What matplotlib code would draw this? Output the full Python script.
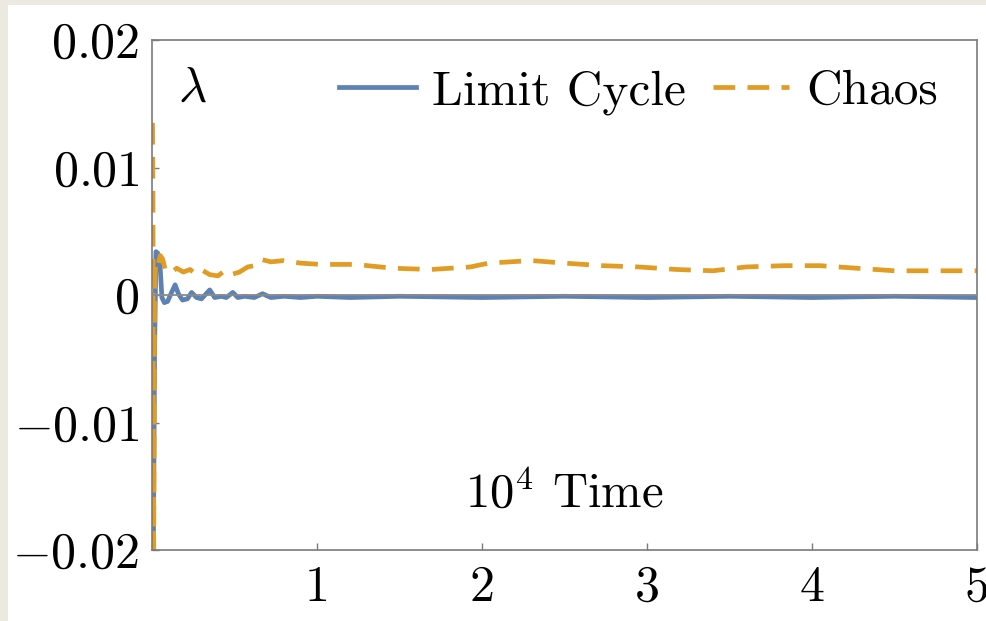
import numpy as np
import matplotlib
matplotlib.use("Agg")
import matplotlib.pyplot as plt
from matplotlib.patches import Rectangle

plt.rcParams['font.family'] = ['cmr10', 'DejaVu Serif']
plt.rcParams['mathtext.fontset'] = 'cm'
plt.rcParams['axes.unicode_minus'] = False

# ---- datos (tiempo en unidades de 10^4) ----
t_ciclo = [0.008, 0.016, 0.024, 0.034, 0.048, 0.060, 0.075, 0.095, 0.115, 0.140,
           0.160, 0.185, 0.215, 0.240, 0.270, 0.300, 0.350, 0.380, 0.420, 0.450,
           0.490, 0.520, 0.560, 0.620, 0.670, 0.720, 0.800, 0.900, 1.000, 1.200,
           1.500, 2.000, 2.500, 3.000, 3.500, 4.000, 4.500, 5.000]
lam_ciclo = [-0.0210, -0.0040, 0.0034, 0.0033, 0.0025, -0.0002, -0.0006, -0.0005, 0.0001, 0.0008,
             0.0001, -0.0004, -0.0003, 0.0002, -0.0002, -0.0003, 0.0004, -0.0002, -0.0001, -0.0002,
             0.0002, -0.0002, -0.0001, -0.0002, 0.0001, -0.0002, -0.0001, -0.0002, -0.0001, -0.0002,
             -0.0001, -0.0002, -0.0001, -0.0002, -0.0001, -0.0002, -0.0001, -0.0002]

t_caos = [0.003, 0.006, 0.010, 0.016, 0.022, 0.035, 0.050, 0.065, 0.080, 0.110,
          0.150, 0.190, 0.230, 0.270, 0.310, 0.350, 0.400, 0.440, 0.480, 0.530,
          0.580, 0.620, 0.660, 0.720, 0.800, 0.900, 1.020, 1.230, 1.460, 1.690,
          1.930, 2.040, 2.300, 2.500, 2.730, 2.950, 3.180, 3.400, 3.600, 3.830,
          4.050, 4.270, 4.500, 4.800, 5.000]
lam_caos = [0.0135, 0.0080, -0.0210, 0.0008, 0.0025, 0.0022, 0.0031, 0.0028, 0.0020, 0.0017,
            0.0021, 0.0018, 0.0020, 0.0016, 0.0019, 0.0016, 0.0015, 0.0019, 0.0016, 0.0018,
            0.0022, 0.0023, 0.0028, 0.0026, 0.0027, 0.0025, 0.0024, 0.0024, 0.0021, 0.0020,
            0.0022, 0.0025, 0.0027, 0.0025, 0.0023, 0.0022, 0.0020, 0.0019, 0.0022, 0.0023,
            0.0023, 0.0021, 0.0019, 0.0019, 0.0019]

yticks = [-0.02, -0.01, 0, 0.01, 0.02]
ytick_labels = [r'$-0.02$', r'$-0.01$', r'$0$', r'$0.01$', r'$0.02$']
xticks = [1, 2, 3, 4, 5]
xtick_labels = ['1', '2', '3', '4', '5']

azul = '#5E81B5'
naranja = '#E19C24'

fig = plt.figure(figsize=(9.86, 6.21), dpi=100, facecolor='#ECE9E0')
# fondo blanco con el borde beige arriba e izquierda
fondo = Rectangle((8/986, 0), 1, 1 - 5/621, transform=fig.transFigure,
                  facecolor='white', edgecolor='none', zorder=-10)
fig.add_artist(fondo)
ax = fig.add_axes([152/986, 71/621, (977-152)/986, (550-40)/621])
ax.set_zorder(1)
ax.set_facecolor('white')

ax.axhline(0, color='#8a8a8a', lw=1.3, zorder=3)
ax.plot(t_ciclo, lam_ciclo, color=azul, lw=3.4, zorder=2, label='Limit Cycle')
ax.plot(t_caos, lam_caos, color=naranja, lw=3.4, zorder=2.5,
        linestyle=(0, (4.6, 2.6)), label='Chaos')

ax.set_xlim(0, 5.0)
ax.set_ylim(-0.02, 0.02)

for s in ax.spines.values():
    s.set_color('#7a7a7a')
    s.set_linewidth(1.2)

ax.set_yticks(yticks)
ax.set_yticklabels(ytick_labels)
ax.set_xticks(xticks)
ax.set_xticklabels(xtick_labels)
ax.tick_params(direction='in', length=5, width=1, color='#7a7a7a', labelsize=36,
               top=False, right=False)
ax.tick_params(axis='y', pad=9)
ax.tick_params(axis='x', pad=11)

ax.text(0.049, 0.905, r'$\lambda$', transform=ax.transAxes, fontsize=35,
        ha='center', va='center')
ax.text(0.5, 0.108, r'$10^4$ Time', transform=ax.transAxes, fontsize=35,
        ha='center', va='center')

leg = ax.legend(loc='upper right', bbox_to_anchor=(0.988, 1.0), ncol=2, frameon=False,
                fontsize=35.5, handlelength=1.55, handletextpad=0.33, columnspacing=0.55,
                borderaxespad=0.2)

fig.savefig('out.png', dpi=100, facecolor=fig.get_facecolor())
